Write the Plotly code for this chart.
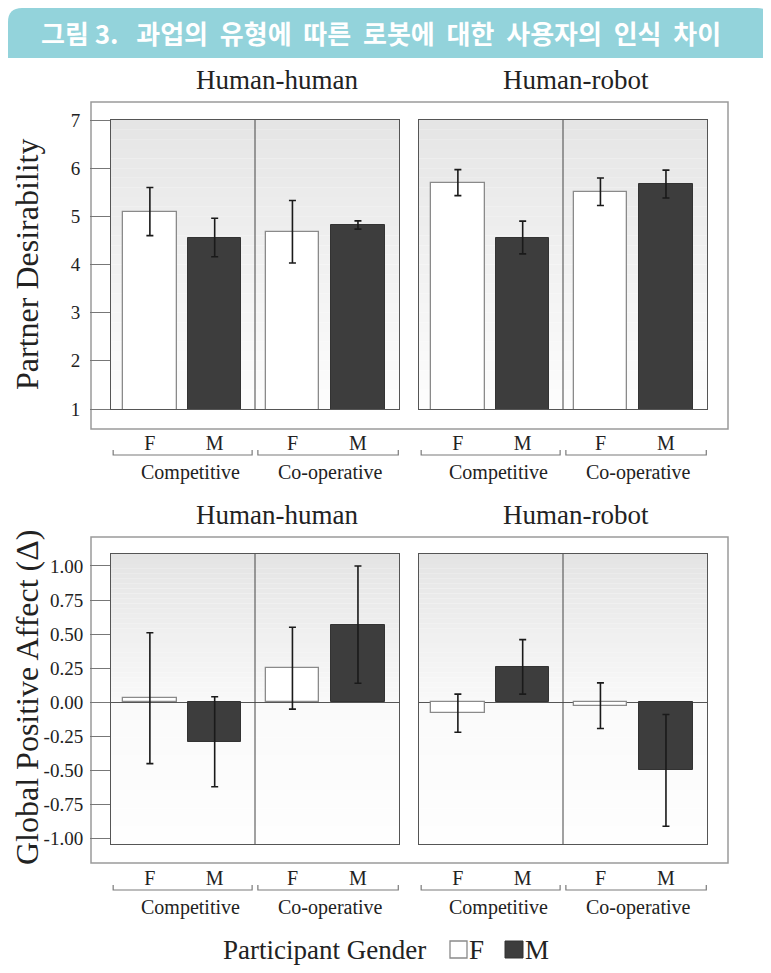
import plotly.graph_objects as go

# The page body has an 8px margin; the figure is sized to fill the rest of the window
OFF = 8
W, H = 771 - OFF, 973 - OFF
def px(x): return (x - OFF) / W
def py(y): return 1 - (y - OFF) / H

# ---------------- data ----------------
title_text = "그림\u00a03.\u00a0\u00a0 과업의\u00a0 유형에\u00a0 따른\u00a0 로봇에\u00a0 대한\u00a0 사용자의\u00a0 인식\u00a0 차이"
partners = ["Human-human", "Human-robot"]
tasks = ["Competitive", "Co-operative"]
genders = ["F", "M"]

# Partner Desirability (values for [Competitive, Co-operative])
desir_hh_F = [5.10, 4.68]
desir_hh_F_err = [0.50, 0.65]
desir_hh_M = [4.56, 4.82]
desir_hh_M_err = [0.40, 0.085]
desir_hr_F = [5.70, 5.51]
desir_hr_F_err = [0.27, 0.285]
desir_hr_M = [4.56, 5.67]
desir_hr_M_err = [0.34, 0.29]

# Global Positive Affect (delta)
affect_hh_F = [0.03, 0.25]
affect_hh_F_err = [0.48, 0.30]
affect_hh_M = [-0.29, 0.57]
affect_hh_M_err = [0.33, 0.43]
affect_hr_F = [-0.08, -0.025]
affect_hr_F_err = [0.14, 0.167]
affect_hr_M = [0.26, -0.50]
affect_hr_M_err = [0.20, 0.41]

desir_ticks = [1, 2, 3, 4, 5, 6, 7]
affect_ticks = [-1.0, -0.75, -0.5, -0.25, 0.0, 0.25, 0.5, 0.75, 1.0]
affect_tick_labels = ["-1.00", "-0.75", "-0.50", "-0.25", "0.00", "0.25", "0.50", "0.75", "1.00"]

# ---------------- style / layout constants ----------------
SERIF = "Liberation Serif, Times New Roman, serif"
TXT = "#222222"
F_FILL, F_LINE = "#ffffff", "#8a8a8a"
M_FILL, M_LINE = "#3d3d3d", "#333333"
POS_F = [0.54, 2.52]
POS_M = [1.44, 3.43]
BAR_W = 0.74

XL = [111, 399]
XR = [419, 707]
YT = [120, 409]
YB = [554, 844]
desir_range = [1, 7]
affect_range = [-1.04, 1.088]

fig = go.Figure()

panels = [
    ("x", "y", desir_hh_F, desir_hh_F_err, desir_hh_M, desir_hh_M_err),
    ("x2", "y2", desir_hr_F, desir_hr_F_err, desir_hr_M, desir_hr_M_err),
    ("x3", "y3", affect_hh_F, affect_hh_F_err, affect_hh_M, affect_hh_M_err),
    ("x4", "y4", affect_hr_F, affect_hr_F_err, affect_hr_M, affect_hr_M_err),
]
for xa, ya, fv, fe, mv, me in panels:
    fig.add_trace(go.Bar(
        x=POS_F, y=fv, width=BAR_W, xaxis=xa, yaxis=ya, name="F",
        marker=dict(color=F_FILL, line=dict(color=F_LINE, width=1.3)),
        error_y=dict(type="data", array=fe, color="#1a1a1a", thickness=1.6, width=3.5),
        showlegend=False))
    fig.add_trace(go.Bar(
        x=POS_M, y=mv, width=BAR_W, xaxis=xa, yaxis=ya, name="M",
        marker=dict(color=M_FILL, line=dict(color=M_LINE, width=1.0)),
        error_y=dict(type="data", array=me, color="#1a1a1a", thickness=1.6, width=3.5),
        showlegend=False))

tickpos = POS_F[:1] + POS_M[:1] + POS_F[1:] + POS_M[1:]
ticktext = genders * len(tasks)

def xaxis(dom, anchor):
    return dict(domain=[px(dom[0]), px(dom[1])], range=[0, 4], anchor=anchor,
                showgrid=False, automargin=False,
                zeroline=False, showline=True, mirror=True, linecolor="#555555", linewidth=1,
                tickvals=tickpos, ticktext=ticktext, ticks="", ticklabelstandoff=16,
                tickfont=dict(family=SERIF, size=20, color=TXT), fixedrange=True)

def yaxis(dom, rng, anchor, left, ticks=None, labels=None, size=19, standoff=5, zl=False):
    d = dict(domain=[py(dom[1]), py(dom[0])], range=rng, anchor=anchor,
             showgrid=False, automargin=False,
             zeroline=zl, zerolinecolor="#555555", zerolinewidth=1,
             showline=True, mirror=True, linecolor="#555555", linewidth=1, fixedrange=True)
    if left:
        d.update(tickvals=ticks, ticktext=labels, ticks="outside", ticklen=20,
                 tickcolor="#777777", tickwidth=1, ticklabelstandoff=standoff,
                 tickfont=dict(family=SERIF, size=size, color=TXT))
    else:
        d.update(showticklabels=False, ticks="")
    return d

fig.update_layout(
    xaxis=xaxis(XL, "y"), xaxis2=xaxis(XR, "y2"), xaxis3=xaxis(XL, "y3"), xaxis4=xaxis(XR, "y4"),
    yaxis=yaxis(YT, desir_range, "x", True, desir_ticks, [str(t) for t in desir_ticks], 19, 6),
    yaxis2=yaxis(YT, desir_range, "x2", False),
    yaxis3=yaxis(YB, affect_range, "x3", True, affect_ticks, affect_tick_labels, 19, 3, True),
    yaxis4=yaxis(YB, affect_range, "x4", False, zl=True),
)

shapes = []
# gradient backgrounds
def stripes(xa, ya, f0, f1, g_top, g_bot, n=30):
    for i in range(n):
        a = f0 + (f1 - f0) * i / n
        b = f0 + (f1 - f0) * (i + 1) / n
        t = (i + 0.5) / n
        g = int(round(g_bot + (g_top - g_bot) * t))
        shapes.append(dict(type="rect", xref=f"{xa} domain", yref=f"{ya} domain",
                           x0=0, x1=1, y0=a, y1=b, fillcolor=f"rgb({g},{g},{g})",
                           line=dict(width=0), layer="below"))

for xa, ya in [("x", "y"), ("x2", "y2")]:
    stripes(xa, ya, 0, 1, 229, 253)
zf = (0 - affect_range[0]) / (affect_range[1] - affect_range[0])
for xa, ya in [("x3", "y3"), ("x4", "y4")]:
    stripes(xa, ya, zf, 1, 228, 249)
    stripes(xa, ya, 0, zf, 250, 254, 8)

# dividers between task groups
for xa, ya in [("x", "y"), ("x2", "y2"), ("x3", "y3"), ("x4", "y4")]:
    shapes.append(dict(type="line", xref=xa, yref=f"{ya} domain", x0=2, x1=2, y0=0, y1=1,
                       line=dict(color="#444444", width=1)))

# outer frames
for y0, y1 in [(102, 429), (537, 863)]:
    shapes.append(dict(type="rect", xref="paper", yref="paper",
                       x0=px(91), x1=px(728), y0=py(y1), y1=py(y0),
                       line=dict(color="#9a9a9a", width=1.5), layer="below"))

# group brackets
for xa, ybr in [("x", 455), ("x2", 455), ("x3", 890), ("x4", 890)]:
    for a, b in [(0.03, 1.96), (2.04, 3.99)]:
        shapes.append(dict(type="path", xref=xa, yref="paper",
                           path=f"M{a},{py(ybr-5)} L{a},{py(ybr)} L{b},{py(ybr)} L{b},{py(ybr-5)}",
                           line=dict(color="#7a7a7a", width=1.2)))

# banner
bx0, bx1, by0, by1, r = 8, 771, 8, 58, 14
path = (f"M{px(bx0)},{py(by1)} L{px(bx0)},{py(by0 + r)} Q{px(bx0)},{py(by0)} {px(bx0 + r)},{py(by0)} "
        f"L{px(bx1 - r)},{py(by0)} Q{px(bx1)},{py(by0)} {px(bx1)},{py(by0 + r)} L{px(bx1)},{py(by1)} Z")
shapes.append(dict(type="path", xref="paper", yref="paper", path=path,
                   fillcolor="#93d3db", line=dict(width=0)))

# legend boxes
shapes.append(dict(type="rect", xref="paper", yref="paper", x0=px(450), x1=px(467),
                   y0=py(958), y1=py(941), fillcolor=F_FILL, line=dict(color=F_LINE, width=1.3)))
shapes.append(dict(type="rect", xref="paper", yref="paper", x0=px(505), x1=px(523),
                   y0=py(958), y1=py(941), fillcolor=M_FILL, line=dict(color=M_LINE, width=1)))

def note(text, x, y, size, xref="paper", xanchor="center", color=TXT, family=SERIF, angle=0):
    return dict(text=text, x=x, y=y, xref=xref, yref="paper", xanchor=xanchor, yanchor="middle",
                textangle=angle, showarrow=False, font=dict(family=family, size=size, color=color))

ann = []
ann.append(note(f"<b>{title_text}</b>", px(381), py(33), 26, color="white", family="Noto Sans CJK KR"))
for yc in [80, 515]:
    ann.append(note(partners[0], px(277), py(yc), 27))
    ann.append(note(partners[1], px(576), py(yc), 27))
for xa, yg in [("x", 473), ("x2", 473), ("x3", 907), ("x4", 907)]:
    for xc, t in zip([1.1, 3.05], tasks):
        ann.append(note(t, xc, py(yg), 20, xref=xa))
ann.append(note("Partner Desirability", px(27), py(265), 32, angle=-90))
ann.append(note("Global Positive Affect (Δ)", px(27), py(698), 32, angle=-90))
ann.append(note("Participant Gender", px(428), py(950), 27, xanchor="right"))
ann.append(note(genders[0], px(467), py(950), 27, xanchor="left"))
ann.append(note(genders[1], px(523), py(950), 27, xanchor="left"))

fig.update_layout(width=W, height=H, margin=dict(l=0, r=0, t=0, b=0, pad=0),
                  paper_bgcolor="white", plot_bgcolor="white",
                  shapes=shapes, annotations=ann, barmode="overlay", bargap=0)

fig.write_html("out.html")
